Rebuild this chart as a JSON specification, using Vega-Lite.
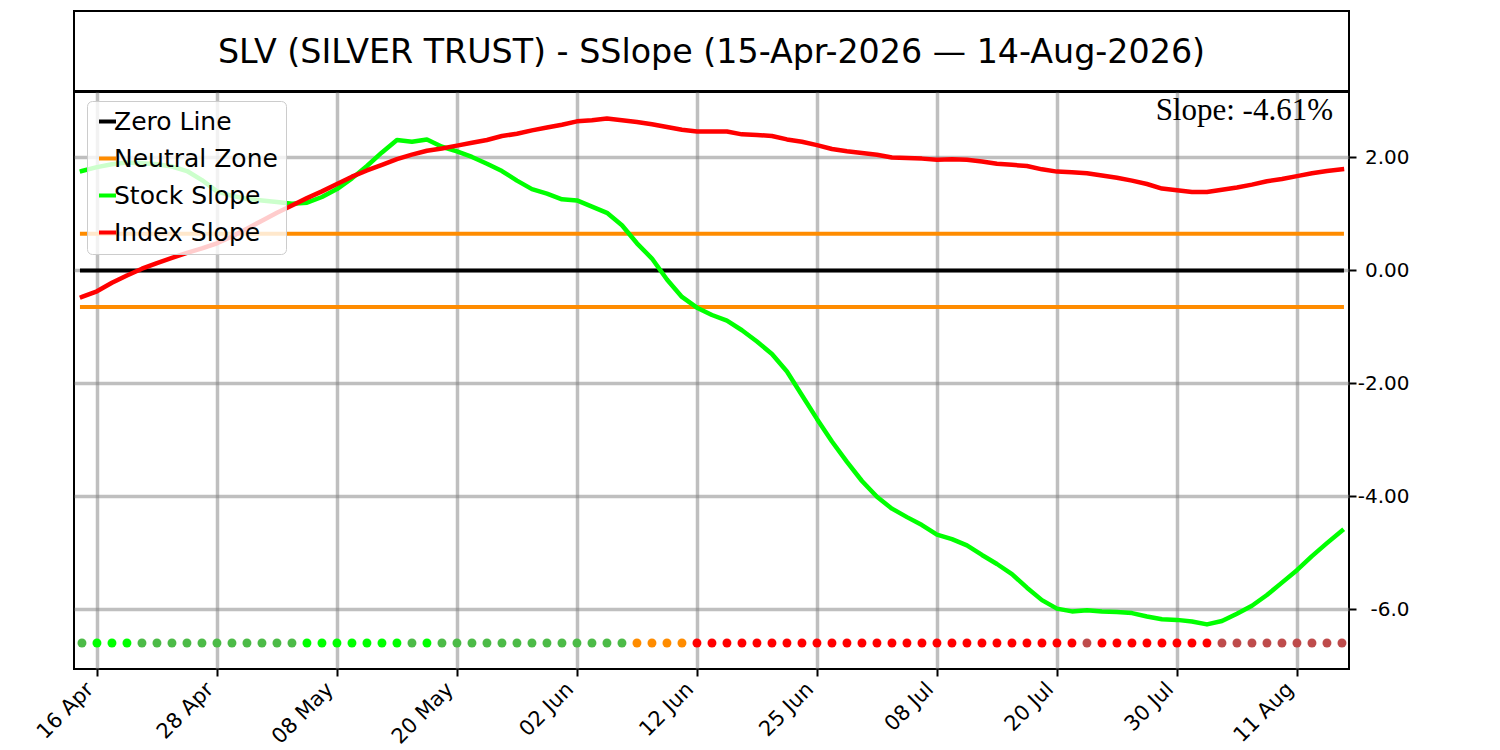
{
  "$schema": "https://vega.github.io/schema/vega-lite/v6.json",
  "padding": {"left": 31, "top": 10, "right": 5, "bottom": 0},
  "spacing": -5,
  "background": "white",
  "config": {
    "font": "DejaVu Sans",
    "view": {"stroke": "black", "strokeWidth": 2},
    "axis": {
      "domain": false,
      "grid": true,
      "gridColor": "gray",
      "gridOpacity": 0.5,
      "gridWidth": 3.5,
      "ticks": true,
      "tickColor": "black",
      "tickSize": 7,
      "tickWidth": 2,
      "labelColor": "black",
      "labelFontSize": 21,
      "labelFont": "DejaVu Sans"
    },
    "legend": {
      "symbolType": "stroke",
      "symbolSize": 289,
      "symbolStrokeWidth": 4,
      "labelFontSize": 25,
      "labelFont": "DejaVu Sans",
      "labelColor": "black",
      "labelLimit": 300,
      "labelOffset": -6,
      "rowPadding": 11,
      "padding": 8,
      "fillColor": "rgba(255,255,255,0.8)",
      "strokeColor": "#cccccc",
      "cornerRadius": 5
    }
  },
  "datasets": {
    "slopes": [
      {"i": 0, "date": "15 Apr", "Stock Slope": 1.76, "Index Slope": -0.47, "signal": "falling"},
      {"i": 1, "date": "16 Apr", "Stock Slope": 1.83, "Index Slope": -0.37, "signal": "rising"},
      {"i": 2, "date": "17 Apr", "Stock Slope": 1.88, "Index Slope": -0.22, "signal": "rising"},
      {"i": 3, "date": "20 Apr", "Stock Slope": 1.91, "Index Slope": -0.09, "signal": "rising"},
      {"i": 4, "date": "21 Apr", "Stock Slope": 1.90, "Index Slope": 0.03, "signal": "falling"},
      {"i": 5, "date": "22 Apr", "Stock Slope": 1.88, "Index Slope": 0.13, "signal": "falling"},
      {"i": 6, "date": "23 Apr", "Stock Slope": 1.84, "Index Slope": 0.22, "signal": "falling"},
      {"i": 7, "date": "24 Apr", "Stock Slope": 1.76, "Index Slope": 0.31, "signal": "falling"},
      {"i": 8, "date": "27 Apr", "Stock Slope": 1.60, "Index Slope": 0.39, "signal": "falling"},
      {"i": 9, "date": "28 Apr", "Stock Slope": 1.40, "Index Slope": 0.48, "signal": "falling"},
      {"i": 10, "date": "29 Apr", "Stock Slope": 1.32, "Index Slope": 0.60, "signal": "falling"},
      {"i": 11, "date": "30 Apr", "Stock Slope": 1.27, "Index Slope": 0.74, "signal": "falling"},
      {"i": 12, "date": "01 May", "Stock Slope": 1.24, "Index Slope": 0.88, "signal": "falling"},
      {"i": 13, "date": "04 May", "Stock Slope": 1.21, "Index Slope": 1.02, "signal": "falling"},
      {"i": 14, "date": "05 May", "Stock Slope": 1.18, "Index Slope": 1.15, "signal": "falling"},
      {"i": 15, "date": "06 May", "Stock Slope": 1.20, "Index Slope": 1.28, "signal": "rising"},
      {"i": 16, "date": "07 May", "Stock Slope": 1.30, "Index Slope": 1.40, "signal": "rising"},
      {"i": 17, "date": "08 May", "Stock Slope": 1.44, "Index Slope": 1.53, "signal": "rising"},
      {"i": 18, "date": "11 May", "Stock Slope": 1.63, "Index Slope": 1.66, "signal": "rising"},
      {"i": 19, "date": "12 May", "Stock Slope": 1.85, "Index Slope": 1.77, "signal": "rising"},
      {"i": 20, "date": "13 May", "Stock Slope": 2.09, "Index Slope": 1.87, "signal": "rising"},
      {"i": 21, "date": "14 May", "Stock Slope": 2.31, "Index Slope": 1.97, "signal": "rising"},
      {"i": 22, "date": "15 May", "Stock Slope": 2.28, "Index Slope": 2.05, "signal": "falling"},
      {"i": 23, "date": "18 May", "Stock Slope": 2.32, "Index Slope": 2.12, "signal": "rising"},
      {"i": 24, "date": "19 May", "Stock Slope": 2.19, "Index Slope": 2.16, "signal": "falling"},
      {"i": 25, "date": "20 May", "Stock Slope": 2.11, "Index Slope": 2.21, "signal": "falling"},
      {"i": 26, "date": "21 May", "Stock Slope": 2.01, "Index Slope": 2.26, "signal": "falling"},
      {"i": 27, "date": "22 May", "Stock Slope": 1.89, "Index Slope": 2.31, "signal": "falling"},
      {"i": 28, "date": "26 May", "Stock Slope": 1.76, "Index Slope": 2.38, "signal": "falling"},
      {"i": 29, "date": "27 May", "Stock Slope": 1.59, "Index Slope": 2.42, "signal": "falling"},
      {"i": 30, "date": "28 May", "Stock Slope": 1.44, "Index Slope": 2.48, "signal": "falling"},
      {"i": 31, "date": "29 May", "Stock Slope": 1.36, "Index Slope": 2.53, "signal": "falling"},
      {"i": 32, "date": "01 Jun", "Stock Slope": 1.26, "Index Slope": 2.58, "signal": "falling"},
      {"i": 33, "date": "02 Jun", "Stock Slope": 1.24, "Index Slope": 2.64, "signal": "falling"},
      {"i": 34, "date": "03 Jun", "Stock Slope": 1.13, "Index Slope": 2.66, "signal": "falling"},
      {"i": 35, "date": "04 Jun", "Stock Slope": 1.02, "Index Slope": 2.69, "signal": "falling"},
      {"i": 36, "date": "05 Jun", "Stock Slope": 0.80, "Index Slope": 2.66, "signal": "falling"},
      {"i": 37, "date": "08 Jun", "Stock Slope": 0.48, "Index Slope": 2.63, "signal": "neutral"},
      {"i": 38, "date": "09 Jun", "Stock Slope": 0.21, "Index Slope": 2.59, "signal": "neutral"},
      {"i": 39, "date": "10 Jun", "Stock Slope": -0.16, "Index Slope": 2.54, "signal": "neutral"},
      {"i": 40, "date": "11 Jun", "Stock Slope": -0.47, "Index Slope": 2.49, "signal": "neutral"},
      {"i": 41, "date": "12 Jun", "Stock Slope": -0.66, "Index Slope": 2.46, "signal": "negative falling"},
      {"i": 42, "date": "15 Jun", "Stock Slope": -0.79, "Index Slope": 2.46, "signal": "negative falling"},
      {"i": 43, "date": "16 Jun", "Stock Slope": -0.89, "Index Slope": 2.46, "signal": "negative falling"},
      {"i": 44, "date": "17 Jun", "Stock Slope": -1.06, "Index Slope": 2.41, "signal": "negative falling"},
      {"i": 45, "date": "18 Jun", "Stock Slope": -1.26, "Index Slope": 2.40, "signal": "negative falling"},
      {"i": 46, "date": "22 Jun", "Stock Slope": -1.48, "Index Slope": 2.38, "signal": "negative falling"},
      {"i": 47, "date": "23 Jun", "Stock Slope": -1.79, "Index Slope": 2.32, "signal": "negative falling"},
      {"i": 48, "date": "24 Jun", "Stock Slope": -2.21, "Index Slope": 2.28, "signal": "negative falling"},
      {"i": 49, "date": "25 Jun", "Stock Slope": -2.63, "Index Slope": 2.22, "signal": "negative falling"},
      {"i": 50, "date": "26 Jun", "Stock Slope": -3.03, "Index Slope": 2.15, "signal": "negative falling"},
      {"i": 51, "date": "29 Jun", "Stock Slope": -3.39, "Index Slope": 2.11, "signal": "negative falling"},
      {"i": 52, "date": "30 Jun", "Stock Slope": -3.73, "Index Slope": 2.08, "signal": "negative falling"},
      {"i": 53, "date": "01 Jul", "Stock Slope": -4.01, "Index Slope": 2.05, "signal": "negative falling"},
      {"i": 54, "date": "02 Jul", "Stock Slope": -4.22, "Index Slope": 2.00, "signal": "negative falling"},
      {"i": 55, "date": "06 Jul", "Stock Slope": -4.37, "Index Slope": 1.99, "signal": "negative falling"},
      {"i": 56, "date": "07 Jul", "Stock Slope": -4.51, "Index Slope": 1.98, "signal": "negative falling"},
      {"i": 57, "date": "08 Jul", "Stock Slope": -4.68, "Index Slope": 1.96, "signal": "negative falling"},
      {"i": 58, "date": "09 Jul", "Stock Slope": -4.76, "Index Slope": 1.97, "signal": "negative falling"},
      {"i": 59, "date": "10 Jul", "Stock Slope": -4.87, "Index Slope": 1.96, "signal": "negative falling"},
      {"i": 60, "date": "13 Jul", "Stock Slope": -5.04, "Index Slope": 1.93, "signal": "negative falling"},
      {"i": 61, "date": "14 Jul", "Stock Slope": -5.20, "Index Slope": 1.89, "signal": "negative falling"},
      {"i": 62, "date": "15 Jul", "Stock Slope": -5.38, "Index Slope": 1.87, "signal": "negative falling"},
      {"i": 63, "date": "16 Jul", "Stock Slope": -5.62, "Index Slope": 1.85, "signal": "negative falling"},
      {"i": 64, "date": "17 Jul", "Stock Slope": -5.84, "Index Slope": 1.79, "signal": "negative falling"},
      {"i": 65, "date": "20 Jul", "Stock Slope": -5.99, "Index Slope": 1.75, "signal": "negative falling"},
      {"i": 66, "date": "21 Jul", "Stock Slope": -6.04, "Index Slope": 1.74, "signal": "negative falling"},
      {"i": 67, "date": "22 Jul", "Stock Slope": -6.02, "Index Slope": 1.72, "signal": "negative rising"},
      {"i": 68, "date": "23 Jul", "Stock Slope": -6.04, "Index Slope": 1.68, "signal": "negative falling"},
      {"i": 69, "date": "24 Jul", "Stock Slope": -6.05, "Index Slope": 1.64, "signal": "negative falling"},
      {"i": 70, "date": "27 Jul", "Stock Slope": -6.07, "Index Slope": 1.59, "signal": "negative falling"},
      {"i": 71, "date": "28 Jul", "Stock Slope": -6.13, "Index Slope": 1.53, "signal": "negative falling"},
      {"i": 72, "date": "29 Jul", "Stock Slope": -6.18, "Index Slope": 1.45, "signal": "negative falling"},
      {"i": 73, "date": "30 Jul", "Stock Slope": -6.19, "Index Slope": 1.42, "signal": "negative falling"},
      {"i": 74, "date": "31 Jul", "Stock Slope": -6.22, "Index Slope": 1.39, "signal": "negative falling"},
      {"i": 75, "date": "03 Aug", "Stock Slope": -6.27, "Index Slope": 1.39, "signal": "negative falling"},
      {"i": 76, "date": "04 Aug", "Stock Slope": -6.21, "Index Slope": 1.43, "signal": "negative rising"},
      {"i": 77, "date": "05 Aug", "Stock Slope": -6.08, "Index Slope": 1.47, "signal": "negative rising"},
      {"i": 78, "date": "06 Aug", "Stock Slope": -5.94, "Index Slope": 1.52, "signal": "negative rising"},
      {"i": 79, "date": "07 Aug", "Stock Slope": -5.75, "Index Slope": 1.58, "signal": "negative rising"},
      {"i": 80, "date": "10 Aug", "Stock Slope": -5.53, "Index Slope": 1.62, "signal": "negative rising"},
      {"i": 81, "date": "11 Aug", "Stock Slope": -5.31, "Index Slope": 1.67, "signal": "negative rising"},
      {"i": 82, "date": "12 Aug", "Stock Slope": -5.06, "Index Slope": 1.72, "signal": "negative rising"},
      {"i": 83, "date": "13 Aug", "Stock Slope": -4.83, "Index Slope": 1.76, "signal": "negative rising"},
      {"i": 84, "date": "14 Aug", "Stock Slope": -4.61, "Index Slope": 1.79, "signal": "negative rising"}
    ],
    "levels": [
      {"name": "Zero Line", "level": 0},
      {"name": "Neutral Zone", "level": 0.65},
      {"name": "Neutral Zone", "level": -0.65}
    ]
  },
  "vconcat": [
    {
      "width": 1275,
      "height": 80,
      "view": {"stroke": "black", "strokeWidth": 2, "fill": "white"},
      "data": {"values": [{"title": "SLV (SILVER TRUST) - SSlope (15-Apr-2026 — 14-Aug-2026)"}]},
      "mark": {"type": "text", "fontSize": 33.3, "baseline": "middle", "align": "center", "color": "black", "dy": 2},
      "encoding": {"text": {"field": "title", "type": "nominal"}}
    },
    {
      "width": 1275,
      "height": 577,
      "layer": [
        {
          "data": {"name": "levels"},
          "mark": {"type": "rule", "strokeWidth": 4, "strokeCap": "square"},
          "encoding": {
            "x": {
              "datum": 0,
              "type": "quantitative",
              "scale": {"domain": [-0.53, 84.47], "nice": false, "zero": false},
              "axis": {
                "title": null,
                "values": [1, 9, 17, 25, 33, 41, 49, 57, 65, 73, 81],
                "labelExpr": "['16 Apr','28 Apr','08 May','20 May','02 Jun','12 Jun','25 Jun','08 Jul','20 Jul','30 Jul','11 Aug'][(datum.value - 1) / 8]",
                "labelAngle": -45,
                "labelAlign": "right",
                "labelBaseline": "bottom",
                "labelPadding": 17
              }
            },
            "x2": {"datum": 84},
            "y": {
              "field": "level",
              "type": "quantitative",
              "scale": {"domain": [-7.06, 3.16], "nice": false, "zero": false},
              "axis": {
                "orient": "right",
                "title": null,
                "values": [-6, -4, -2, 0, 2],
                "labelAlign": "right",
                "labelPadding": 53,
                "labelFontSize": 20,
                "labelExpr": "datum.value == -6 ? '-6.0' : (datum.value < 0 ? '-' : '') + format(abs(datum.value), '.2f')"
              }
            },
            "color": {
              "field": "name",
              "type": "nominal",
              "scale": {
                "domain": ["Zero Line", "Neutral Zone", "Stock Slope", "Index Slope"],
                "range": ["black", "#ff8c00", "#00ff00", "#ff0000"]
              },
              "legend": {"title": null, "orient": "none", "legendX": 13, "legendY": 90}
            }
          }
        },
        {
          "data": {"name": "slopes"},
          "mark": {"type": "line", "strokeWidth": 4.5, "strokeCap": "square", "strokeJoin": "round"},
          "encoding": {
            "x": {"field": "i", "type": "quantitative"},
            "y": {"field": "Stock Slope", "type": "quantitative"},
            "color": {"datum": "Stock Slope"}
          }
        },
        {
          "data": {"name": "slopes"},
          "mark": {"type": "line", "strokeWidth": 4.5, "strokeCap": "square", "strokeJoin": "round"},
          "encoding": {
            "x": {"field": "i", "type": "quantitative"},
            "y": {"field": "Index Slope", "type": "quantitative"},
            "color": {"datum": "Index Slope"}
          }
        },
        {
          "data": {"name": "slopes"},
          "mark": {"type": "circle", "size": 80, "opacity": 1},
          "encoding": {
            "x": {"field": "i", "type": "quantitative"},
            "y": {"datum": -6.6},
            "fill": {
              "field": "signal",
              "type": "nominal",
              "scale": {
                "domain": ["rising", "falling", "neutral", "negative falling", "negative rising"],
                "range": ["#00ff00", "#4cbb47", "#ff8c00", "#ff0000", "#be4b4b"]
              },
              "legend": null
            }
          }
        },
        {
          "data": {"values": [{"label": "Slope: -4.61%"}]},
          "mark": {"type": "text", "font": "Liberation Serif", "fontSize": 31, "align": "right", "baseline": "alphabetic", "dx": -16, "dy": 28, "color": "black"},
          "encoding": {
            "x": {"datum": 84.47},
            "y": {"datum": 3.16},
            "text": {"field": "label", "type": "nominal"}
          }
        }
      ]
    }
  ]
}
